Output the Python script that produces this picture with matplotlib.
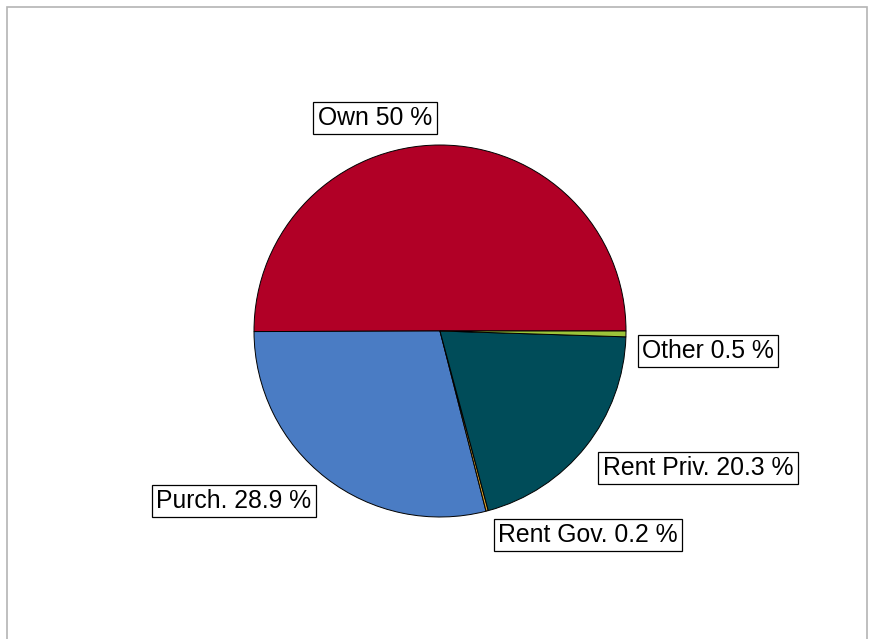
import matplotlib.pyplot as plt
from matplotlib.patches import Rectangle

plt.rcParams['font.family'] = ['Liberation Sans', 'DejaVu Sans']

labels = ['Own', 'Purch.', 'Rent Gov.', 'Rent Priv.', 'Other']
shares = [50, 28.9, 0.2, 20.3, 0.5]
colors = ['#b10026', '#4a7cc4', '#d4a02a', '#004c59', '#9cc43a']
# label box centres in pixels (x from left, y from top)
label_pos = [(375, 118), (234, 501), (588, 535), (698, 468), (708, 351)]

W, H = 875, 639
fig = plt.figure(figsize=(W / 100, H / 100), dpi=100)
ax = fig.add_axes([0, 0, 1, 1])
ax.set_xlim(0, W)
ax.set_ylim(0, H)
ax.set_aspect('equal')
ax.axis('off')

ax.pie(shares, colors=colors, startangle=0, counterclock=True,
       center=(440, H - 331), radius=186,
       wedgeprops=dict(edgecolor='black', linewidth=0.7))
ax.set_xlim(0, W)
ax.set_ylim(0, H)

for lab, val, (x, y) in zip(labels, shares, label_pos):
    txt = f'{lab} {val:g} %'
    ax.text(x, H - y, txt, ha='center', va='center', fontsize=17.8,
            bbox=dict(boxstyle='square,pad=0.18', facecolor='white',
                      edgecolor='black', linewidth=0.9))

fig.add_artist(Rectangle((7 / W, -0.1), 860 / W, 1.1 - 7 / H,
                         transform=fig.transFigure, fill=False,
                         edgecolor='#b4b4b4', linewidth=1.2))

fig.savefig('out.png', dpi=100)
